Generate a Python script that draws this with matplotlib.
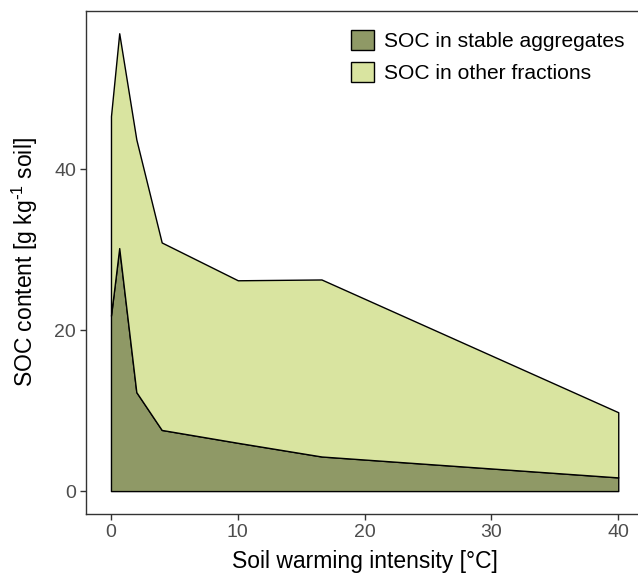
import numpy as np
import matplotlib.pyplot as plt
from matplotlib.patches import Patch

plt.rcParams['font.family'] = ['Liberation Sans', 'DejaVu Sans']
plt.rcParams['mathtext.default'] = 'regular'

# soil warming intensity (deg C)
warming = np.array([0, 0.65, 2, 4, 10, 16.6, 40])
# SOC in stable aggregates, g/kg
soc_stable = np.array([21.8, 30.2, 12.3, 7.6, 6.0, 4.3, 1.7])
# SOC in other fractions, g/kg (stacked on top)
soc_other = np.array([24.8, 26.7, 31.4, 23.3, 20.2, 22.0, 8.1])

labels = ['SOC in stable aggregates', 'SOC in other fractions']
colors = ['#8F9966', '#D9E4A0']

fig = plt.figure(figsize=(6.38, 5.74), dpi=100)
ax = fig.add_axes([0.1342, 0.1045, 0.8746, 0.8768])

top = soc_stable + soc_other
ax.fill_between(warming, 0, soc_stable, facecolor=colors[0], edgecolor='black', lw=1.0)
ax.fill_between(warming, soc_stable, top, facecolor=colors[1], edgecolor='black', lw=1.0)

ax.set_xlim(-2, 42)
ax.set_ylim(-2.85, 59.7)
ax.set_xticks([0, 10, 20, 30, 40])
ax.set_yticks([0, 20, 40])

for s in ax.spines.values():
    s.set_color('#333333')
    s.set_linewidth(1.0)
ax.tick_params(colors='#333333', labelcolor='#4D4D4D', labelsize=14, length=4, width=1.0, pad=3)

ax.set_xlabel('Soil warming intensity [°C]', fontsize=16.5, labelpad=7)
ax.set_ylabel('SOC content [g kg$^{\\text{-}1}$ soil]', fontsize=16.5, labelpad=10)

handles = [Patch(facecolor=c, edgecolor='black', lw=1.0) for c in colors]
ax.legend(handles, labels, loc='upper left', bbox_to_anchor=(351 / 638, 1 - 30 / 574),
          bbox_transform=fig.transFigure, frameon=False, fontsize=15.1,
          handlelength=1.1, handleheight=1.1, handletextpad=0.45,
          labelspacing=0.5, borderpad=0, borderaxespad=0)

fig.savefig('out.png', dpi=100)
